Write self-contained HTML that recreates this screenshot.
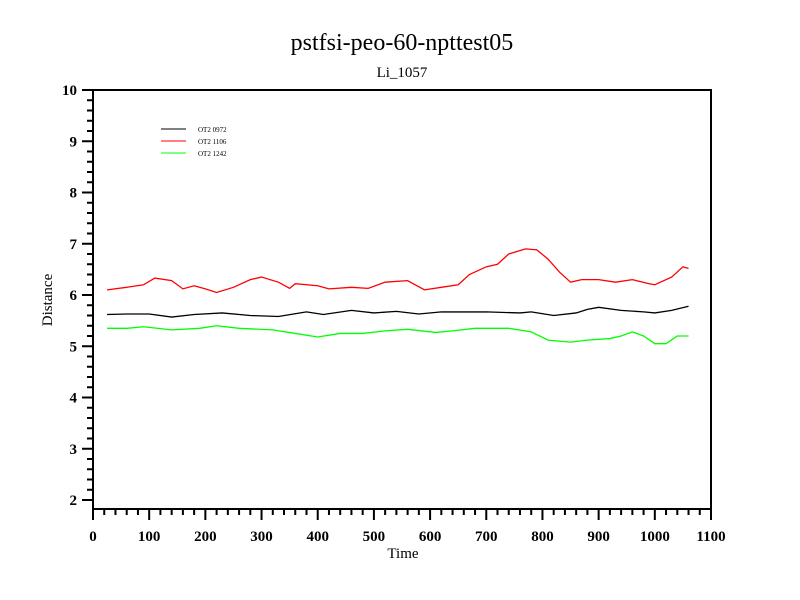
<!DOCTYPE html>
<html><head><meta charset="utf-8"><style>
body{margin:0;background:#fff;}
svg{display:block;font-family:"Liberation Serif",serif;}
</style></head><body>
<svg id="chart" width="800" height="600">
<rect width="800" height="600" fill="#fff"/>
<text x="402" y="50" font-size="24" text-anchor="middle">pstfsi-peo-60-npttest05</text>
<text x="402" y="77" font-size="15" text-anchor="middle">Li_1057</text>
<rect x="93" y="90" width="618" height="419" fill="none" stroke="#000" stroke-width="2"/>
<g id="axes"></g>
<g id="series"></g>
<text x="403" y="558" font-size="15" text-anchor="middle">Time</text>
<text transform="translate(52,300) rotate(-90)" font-size="15" text-anchor="middle">Distance</text>
<g font-size="7">
<line x1="161" y1="129" x2="186" y2="129" stroke="#000"/><text x="198" y="132">OT2 0972</text>
<line x1="161" y1="141" x2="186" y2="141" stroke="#f00"/><text x="198" y="144">OT2 1106</text>
<line x1="161" y1="153" x2="186" y2="153" stroke="#0f0"/><text x="198" y="156">OT2 1242</text>
</g>
</svg>
<script>
const blackX=[25,60,100,140,180,230,280,330,380,410,460,500,540,580,620,700,760,780,820,860,880,900,940,980,1000,1030,1060];
const blackY=[5.62,5.63,5.63,5.57,5.62,5.65,5.6,5.58,5.67,5.62,5.7,5.65,5.68,5.63,5.67,5.67,5.65,5.67,5.6,5.65,5.72,5.76,5.7,5.67,5.65,5.7,5.78];
const redX=[25,60,90,110,140,160,180,200,220,250,280,300,330,350,360,400,420,460,490,520,560,590,620,650,670,700,720,740,770,790,810,830,850,870,900,930,960,990,1000,1030,1050,1060];
const redY=[6.1,6.15,6.2,6.33,6.28,6.12,6.18,6.12,6.05,6.15,6.3,6.35,6.25,6.13,6.22,6.18,6.12,6.15,6.13,6.25,6.28,6.1,6.15,6.2,6.4,6.55,6.6,6.8,6.9,6.88,6.7,6.45,6.25,6.3,6.3,6.25,6.3,6.22,6.2,6.35,6.55,6.52];
const greenX=[25,60,90,140,190,220,260,320,360,400,440,480,520,560,610,640,680,740,780,810,850,880,920,940,960,980,1000,1020,1040,1060];
const greenY=[5.35,5.35,5.38,5.32,5.35,5.4,5.35,5.32,5.25,5.18,5.25,5.25,5.3,5.33,5.27,5.3,5.35,5.35,5.28,5.12,5.08,5.12,5.15,5.2,5.28,5.2,5.05,5.05,5.2,5.2];
const xTicks=[0,100,200,300,400,500,600,700,800,900,1000,1100];
const yTicks=[2,3,4,5,6,7,8,9,10];
const NS="http://www.w3.org/2000/svg";
const sx=v=>93+v*618/1100;
const sy=v=>90+(10-v)*51.25;
const axes=document.getElementById('axes');
function el(tag,attrs,parent){const e=document.createElementNS(NS,tag);for(const k in attrs)e.setAttribute(k,attrs[k]);parent.appendChild(e);return e;}
for(let v=0;v<=1100;v+=20){const major=v%100===0;
 const t=el('line',{x1:sx(v),x2:sx(v),y1:509,y2:major?520:515,stroke:'#000','stroke-width':2},axes);
 
 }
xTicks.forEach(v=>{const t=el('text',{x:sx(v),y:541,'font-size':15,'font-weight':'bold','text-anchor':'middle'},axes);t.textContent=v;
 
 });
for(let i=9;i<=50;i++){const v=i/5;const major=i%5===0;const y=sy(v);if(y>509)continue;
 const t=el('line',{x1:major?82:87,x2:93,y1:y,y2:y,stroke:'#000','stroke-width':2},axes);
 
 }
yTicks.forEach(v=>{const t=el('text',{x:77,y:sy(v)+5,'font-size':15,'font-weight':'bold','text-anchor':'end'},axes);t.textContent=v;
 
 });
const series=document.getElementById('series');
[[blackX,blackY,'#000','series-ot2-0972'],[redX,redY,'#f00','series-ot2-1106'],[greenX,greenY,'#0f0','series-ot2-1242']].forEach(([xs,ys,c,n])=>{
 const p=el('polyline',{points:xs.map((x,i)=>sx(x)+','+sy(ys[i])).join(' '),fill:'none',stroke:c,'stroke-width':1.3},series);
 
 
});
</script>
</body></html>
